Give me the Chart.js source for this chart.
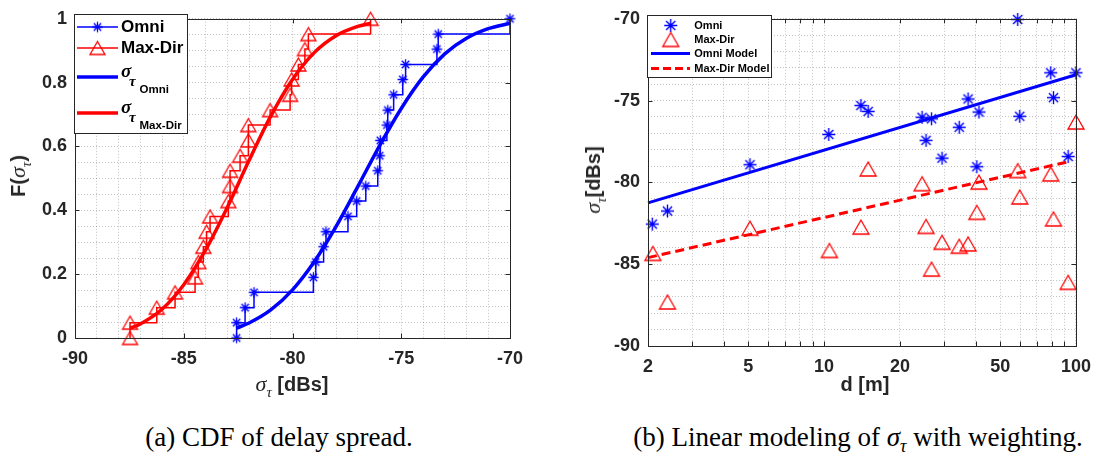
<!DOCTYPE html>
<html><head><meta charset="utf-8">
<script src="https://cdn.jsdelivr.net/npm/chart.js@4.4.1/dist/chart.umd.min.js"></script>
<style>
html,body{margin:0;padding:0;background:#fff;width:1101px;height:461px;overflow:hidden;}
body{position:relative;font-family:"Liberation Sans",Arial,sans-serif;}
canvas{position:absolute;top:0;}
#c1{left:0;}
#c2{left:560px;}
.t{position:absolute;color:#262626;font-weight:bold;white-space:nowrap;font-size:20px;line-height:1;}
.sg{font-family:"Liberation Serif","Times New Roman",serif;font-style:italic;font-weight:normal;font-size:22px;}
.sb{font-family:"Liberation Serif","Times New Roman",serif;font-style:italic;font-weight:normal;font-size:15px;position:relative;top:6px;}
.cap{position:absolute;font-family:"Liberation Serif","Times New Roman",serif;font-size:27px;color:#000;white-space:nowrap;transform:translateX(-50%);line-height:1;}
</style></head>
<body>
<canvas id="c1" width="540" height="400"></canvas>
<canvas id="c2" width="541" height="400"></canvas>
<div class="t" style="left:292px;top:373px;transform:translateX(-50%);"><span class="sg">σ</span><span class="sb">τ</span> [dBs]</div>
<div class="t" style="left:18px;top:176px;transform:translate(-50%,-50%) rotate(-90deg);">F(<span class="sg">σ</span><span class="sb">τ</span>)</div>
<div class="t" style="left:865px;top:374px;transform:translateX(-50%);">d [m]</div>
<div class="t" style="left:593px;top:180px;transform:translate(-50%,-50%) rotate(-90deg);"><span class="sg">σ</span><span class="sb">τ</span>[dBs]</div>
<div class="cap" style="left:279px;top:424px;">(a) CDF of delay spread.</div>
<div class="cap" style="left:858px;top:424px;">(b) Linear modeling of <span style="font-style:italic">σ</span><sub style="font-style:italic;font-size:18px">τ</sub> with weighting.</div>
<script>
// ---------- data: (a) CDF of delay spread ----------
const omniCdfX = [-82.57,-82.57,-82.18,-81.77,-79.04,-78.93,-78.57,-78.46,-77.45,-77.05,-76.63,-76.08,-75.99,-75.96,-75.66,-75.62,-75.35,-74.93,-74.80,-73.36,-73.30,-70.0];
const omniCdfF = [0,0.048,0.095,0.143,0.190,0.238,0.286,0.333,0.381,0.429,0.476,0.524,0.571,0.619,0.667,0.714,0.762,0.810,0.857,0.905,0.952,1.0];
const maxCdfX = [-87.47,-87.47,-86.24,-85.40,-84.48,-84.33,-84.10,-83.95,-83.79,-82.95,-82.87,-82.87,-82.41,-82.03,-82.03,-81.03,-80.11,-80.04,-79.73,-79.43,-79.27,-76.41];
const maxCdfF = [0,0.048,0.095,0.143,0.190,0.238,0.286,0.333,0.381,0.429,0.476,0.524,0.571,0.619,0.667,0.714,0.762,0.810,0.857,0.905,0.952,1.0];
const omniFitX = [-82.57,-82,-81,-80,-79,-78,-77,-76,-75,-74,-73,-72,-71,-70];
const omniFitF = [0.031,0.047,0.088,0.151,0.239,0.349,0.474,0.602,0.719,0.817,0.890,0.939,0.969,0.986];
const maxFitX = [-87.47,-87,-86,-85,-84,-83,-82,-81,-80,-79,-78,-77,-76.41];
const maxFitF = [0.031,0.044,0.090,0.167,0.275,0.409,0.556,0.695,0.810,0.894,0.947,0.976,0.986];
// ---------- data: (b) linear modeling ----------
const omniD = [2.08,2.39,5.08,10.44,14.0,14.96,24.5,25.4,26.7,29.4,34.4,37.3,40.4,41.2,58.7,59.8,79.4,81.4,93.1,100];
const omniS = [-82.55,-81.75,-78.92,-77.07,-75.3,-75.66,-76.02,-77.43,-76.11,-78.52,-76.63,-74.9,-79.04,-75.7,-70.04,-75.96,-73.3,-74.82,-78.42,-73.3];
const maxD = [2.09,2.39,5.08,10.5,14.0,14.96,24.5,25.4,26.7,29.4,34.4,37.3,40.4,41.2,58.7,59.8,79.4,81.4,93.1,100];
const maxS = [-84.34,-87.31,-82.8,-84.16,-82.73,-79.18,-80.08,-82.69,-85.3,-83.66,-83.9,-83.76,-81.83,-79.98,-79.28,-80.89,-79.48,-82.23,-86.11,-76.31];
const omniModelD = [2,100];
const omniModelS = [-81.25,-73.42];
const maxModelD = [2,93.1];
const maxModelS = [-84.6,-78.74];
// ---------- tick labels ----------
const cdfXTickLabels = [-90,-85,-80,-75,-70];
const cdfYTickLabels = [0,0.2,0.4,0.6,0.8,1];
const dTicks = [2,3,4,5,6,7,8,9,10,20,30,40,50,60,70,80,90,100];
const dTickLabels = [2,5,10,20,50,100];
const sYTickLabels = [-90,-85,-80,-75,-70];

const BLUE = '#0000ff', RED = '#ff0000', AX = '#262626';
const GRID = 'rgba(38,38,38,0.28)';

function starCanvas(r, color, lw){
  const s = Math.ceil(2*r+4); const c = document.createElement('canvas'); c.width=s; c.height=s;
  const g = c.getContext('2d'); g.strokeStyle=color; g.lineWidth=lw; const m=s/2;
  g.beginPath();
  for (let k=0;k<4;k++){ const a=k*Math.PI/4; g.moveTo(m-Math.cos(a)*r, m-Math.sin(a)*r); g.lineTo(m+Math.cos(a)*r, m+Math.sin(a)*r); }
  g.stroke(); return c;
}
function triCanvas(w, h, color, lw){
  const s = Math.ceil(Math.max(w,h)+4); const c = document.createElement('canvas'); c.width=s; c.height=s;
  const g = c.getContext('2d'); g.strokeStyle=color; g.lineWidth=lw; g.lineJoin='miter'; const m=s/2;
  g.beginPath(); g.moveTo(m, m-h/2); g.lineTo(m+w/2, m+h/2); g.lineTo(m-w/2, m+h/2); g.closePath(); g.stroke(); return c;
}
const starL = starCanvas(5.2, BLUE, 1.3), triL = triCanvas(15, 13, RED, 1.3);
const starR = starCanvas(6.5, BLUE, 1.4), triR = triCanvas(16, 14, RED, 1.3);

const pts = (xs, ys) => xs.map((x,i)=>({x, y: ys[i]}));
const isIn = (arr, v) => arr.some(a => Math.abs(a - v) < 1e-6);
const tickFont = {family:'"Liberation Sans", Arial, sans-serif', size:18, weight:'bold'};

function frameTicksPlugin(xMajor, yMajor, xMinorTicks){
  return { id:'frameTicks', afterDatasetsDraw(chart){
    const {ctx, chartArea:a, scales:{x, y}} = chart;
    ctx.save(); ctx.strokeStyle = AX; ctx.lineWidth = 1;
    ctx.beginPath();
    x.ticks.forEach(t => {
      const maj = isIn(xMajor, t.value); if (!maj && !xMinorTicks) return;
      const L = maj ? 4.5 : 2.5; const px = Math.round(x.getPixelForValue(t.value)) + 0.5;
      ctx.moveTo(px, a.bottom); ctx.lineTo(px, a.bottom - L); ctx.moveTo(px, a.top); ctx.lineTo(px, a.top + L);
    });
    y.ticks.forEach(t => {
      if (!isIn(yMajor, t.value)) return;
      const py = Math.round(y.getPixelForValue(t.value)) + 0.5;
      ctx.moveTo(a.left, py); ctx.lineTo(a.left + 4.5, py); ctx.moveTo(a.right, py); ctx.lineTo(a.right - 4.5, py);
    });
    ctx.stroke();
    ctx.strokeRect(Math.round(a.left)+0.5, Math.round(a.top)+0.5, Math.round(a.right-a.left), Math.round(a.bottom-a.top));
    ctx.restore();
  }};
}
function hline(ctx, x1, x2, y, color, lw, dash){ ctx.save(); ctx.strokeStyle=color; ctx.lineWidth=lw; ctx.setLineDash(dash||[]); ctx.beginPath(); ctx.moveTo(x1,y); ctx.lineTo(x2,y); ctx.stroke(); ctx.restore(); }
function img(ctx, c, x, y){ ctx.drawImage(c, x - c.width/2, y - c.height/2); }

const legendA = { id:'legendA', afterDraw(chart){
  const ctx = chart.ctx; ctx.save();
  ctx.fillStyle='#fff'; ctx.fillRect(74,14,113,119);
  ctx.strokeStyle=AX; ctx.lineWidth=1; ctx.strokeRect(74.5,14.5,113,119);
  hline(ctx,77,118,27,BLUE,1.5); img(ctx,starL,97.5,27);
  hline(ctx,77,118,48,RED,1.5); img(ctx,triL,97.5,48);
  hline(ctx,77,118,77,BLUE,3.5);
  hline(ctx,77,118,113,RED,3.5);
  ctx.fillStyle='#000'; ctx.textBaseline='middle';
  ctx.font='bold 17px "Liberation Sans", Arial, sans-serif';
  ctx.fillText('Omni',121,27.5); ctx.fillText('Max-Dir',121,48.5);
  ctx.textBaseline='alphabetic';
  [[77,'Omni'],[113,'Max-Dir']].forEach(([yy,sub])=>{
    ctx.font='italic bold 19px "Liberation Serif", serif'; ctx.fillText('σ',121,yy);
    ctx.font='italic bold 15px "Liberation Serif", serif'; ctx.fillText('τ',129,yy+8.5);
    ctx.font='bold 11.5px "Liberation Sans", Arial, sans-serif'; ctx.fillText(sub,139.5,yy+15.5);
  });
  ctx.restore();
}};
const legendB = { id:'legendB', afterDraw(chart){
  const ctx = chart.ctx; ctx.save();
  ctx.fillStyle='#fff'; ctx.fillRect(87,15,124,62);
  ctx.strokeStyle=AX; ctx.lineWidth=1; ctx.strokeRect(87.5,15.5,124,62);
  img(ctx,starR,110.7,25.5); img(ctx,triR,110.7,39.5);
  hline(ctx,91,130,53.5,BLUE,3); hline(ctx,91,130,68.5,RED,3,[8,4]);
  ctx.fillStyle='#000'; ctx.textBaseline='middle'; ctx.font='bold 11px "Liberation Sans", Arial, sans-serif';
  ctx.fillText('Omni',134.3,25.5); ctx.fillText('Max-Dir',134.3,39.5);
  ctx.fillText('Omni Model',134.3,53.5); ctx.fillText('Max-Dir Model',134.3,68.5);
  ctx.restore();
}};

const commonGrid = {color: GRID, lineWidth: 1, drawTicks: false};
const commonBorder = {display: false, dash: [1,2]};

new Chart(document.getElementById('c1'), {
  type: 'scatter',
  data: { datasets: [
    {data: pts(omniFitX, omniFitF), showLine:true, borderColor:BLUE, borderWidth:3.5, pointRadius:0, cubicInterpolationMode:'monotone'},
    {data: pts(maxFitX, maxFitF), showLine:true, borderColor:RED, borderWidth:3.5, pointRadius:0, cubicInterpolationMode:'monotone'},
    {data: pts(omniCdfX, omniCdfF), showLine:true, stepped:'before', borderColor:BLUE, borderWidth:1.5, pointStyle:starL, pointRadius:5},
    {data: pts(maxCdfX, maxCdfF), showLine:true, stepped:'before', borderColor:RED, borderWidth:1.5, pointStyle:triL, pointRadius:7}
  ]},
  options: {
    responsive:false, animation:false, devicePixelRatio:1, clip:false,
    layout:{padding:{top:14,right:30,left:0,bottom:0}},
    plugins:{legend:{display:false}, tooltip:{enabled:false}},
    scales:{
      x:{type:'linear', min:-90, max:-70,
         ticks:{stepSize:1, autoSkip:false, maxRotation:0, minRotation:0, padding:10, font:tickFont, color:AX,
                callback:v => isIn(cdfXTickLabels, v) ? String(Math.round(v)) : ''},
         grid:commonGrid, border:commonBorder, afterFit:s => { s.height = 62; }},
      y:{type:'linear', min:0, max:1,
         ticks:{stepSize:0.05, autoSkip:false, padding:8, font:tickFont, color:AX,
                callback:v => isIn(cdfYTickLabels, v) ? String(Math.round(v*10)/10) : ''},
         grid:commonGrid, border:commonBorder, afterFit:s => { s.width = 75; }}
    }
  },
  plugins:[frameTicksPlugin(cdfXTickLabels, cdfYTickLabels, false), legendA]
});

new Chart(document.getElementById('c2'), {
  type: 'scatter',
  data: { datasets: [
    {data: pts(omniModelD, omniModelS), showLine:true, borderColor:BLUE, borderWidth:3, pointRadius:0},
    {data: pts(maxModelD, maxModelS), showLine:true, borderColor:RED, borderWidth:3, borderDash:[9,5], pointRadius:0},
    {data: pts(omniD, omniS), showLine:false, pointStyle:starR, pointRadius:6},
    {data: pts(maxD, maxS), showLine:false, pointStyle:triR, pointRadius:8}
  ]},
  options: {
    responsive:false, animation:false, devicePixelRatio:1, clip:false,
    layout:{padding:{top:14,right:18,left:0,bottom:0}},
    plugins:{legend:{display:false}, tooltip:{enabled:false}},
    scales:{
      x:{type:'logarithmic', min:2, max:100,
         afterBuildTicks:s => { s.ticks = dTicks.map(v => ({value:v})); },
         ticks:{autoSkip:false, maxRotation:0, minRotation:0, padding:10, font:tickFont, color:AX,
                callback:v => isIn(dTickLabels, v) ? String(v) : ''},
         grid:commonGrid, border:commonBorder, afterFit:s => { s.height = 54; }},
      y:{type:'linear', min:-90, max:-70,
         ticks:{stepSize:1, autoSkip:false, padding:8, font:tickFont, color:AX,
                callback:v => isIn(sYTickLabels, v) ? String(Math.round(v)) : ''},
         grid:commonGrid, border:commonBorder, afterFit:s => { s.width = 88; }}
    }
  },
  plugins:[frameTicksPlugin(dTickLabels.concat(dTicks), sYTickLabels, true), legendB]
});
</script>
</body></html>
